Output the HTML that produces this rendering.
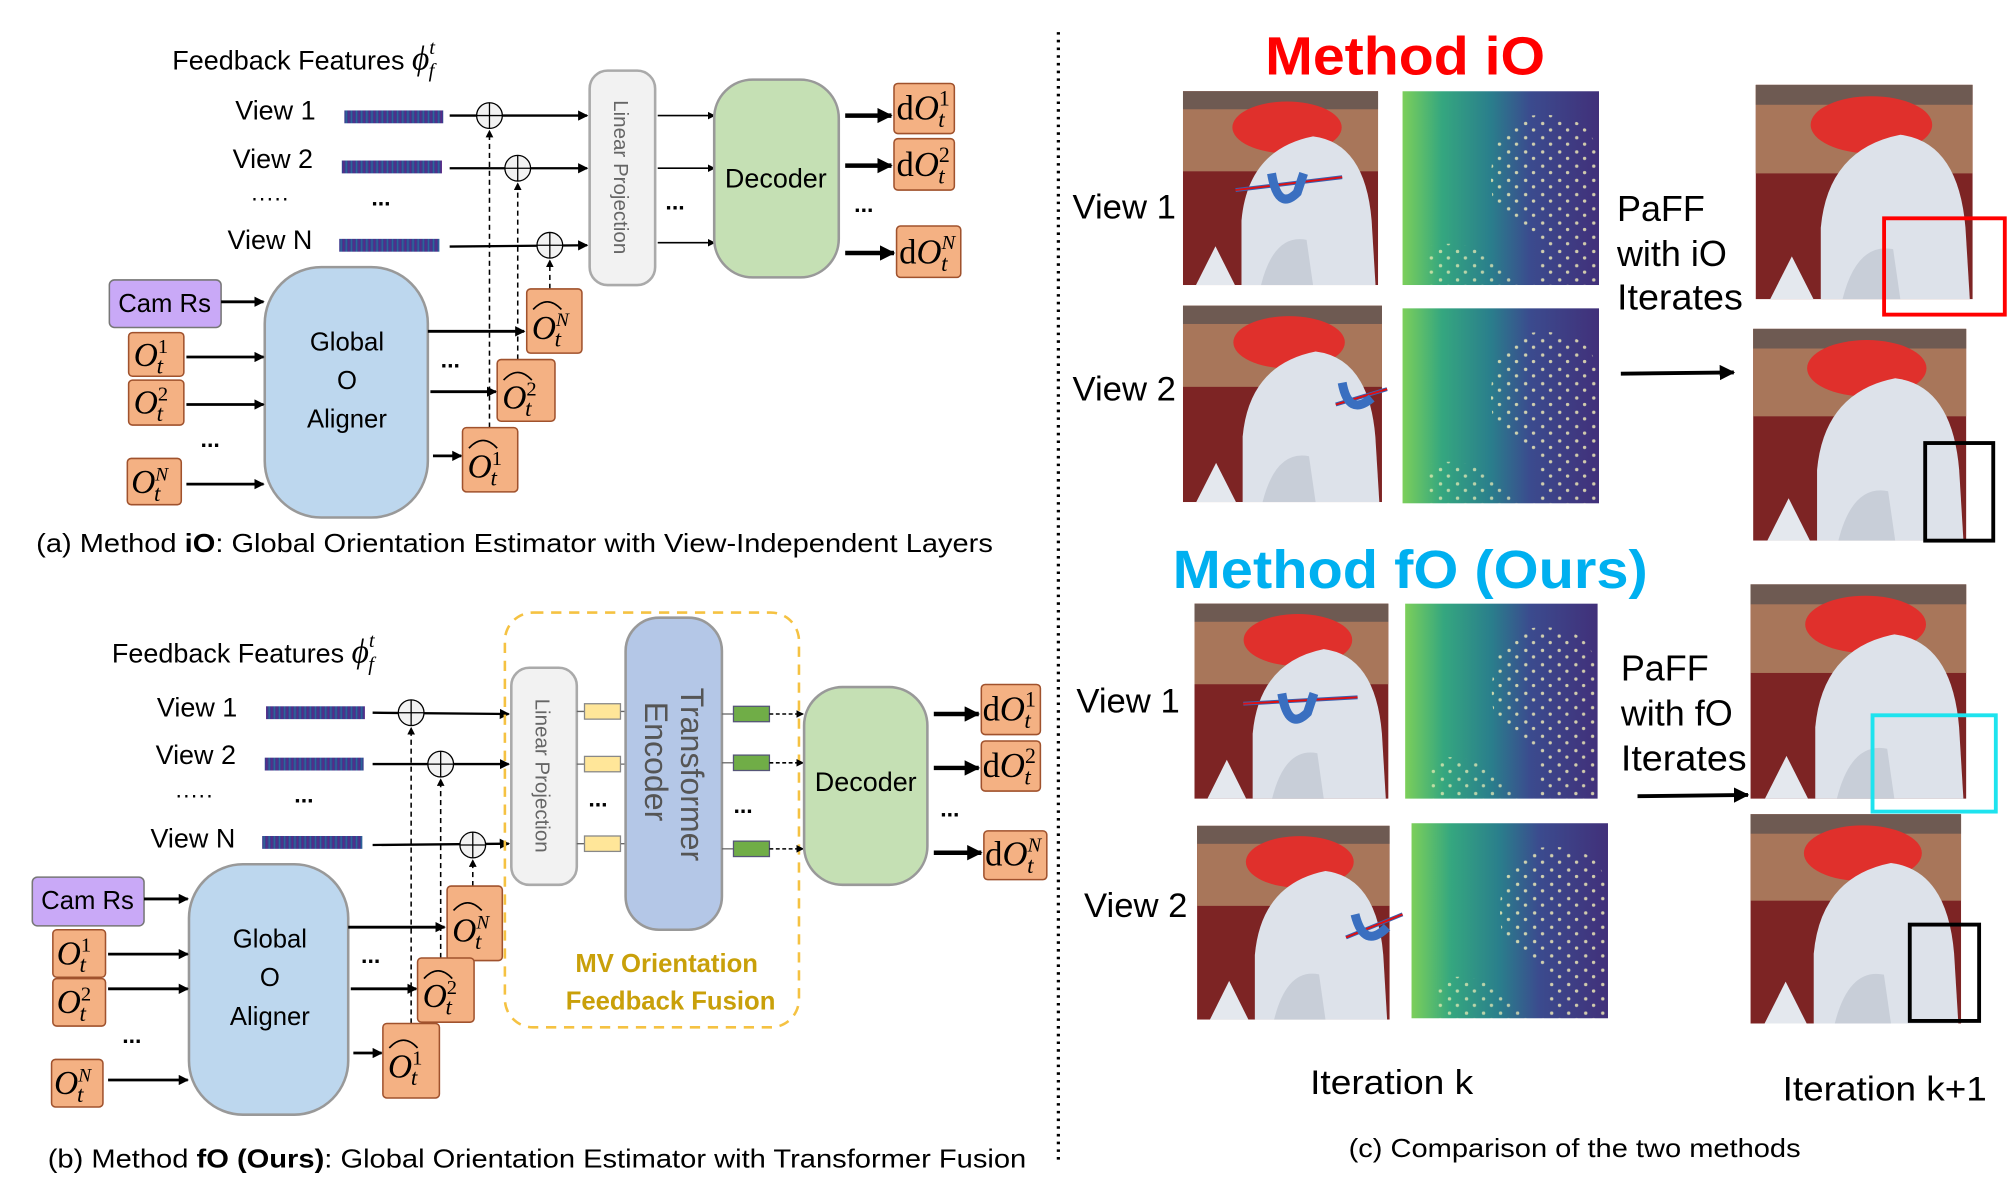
<!DOCTYPE html>
<html><head><meta charset="utf-8"><style>
html,body{margin:0;padding:0;background:#fff;}
svg{display:block;}
text{font-family:"Liberation Sans",sans-serif;}
.m{font-family:"Liberation Serif",serif;font-style:italic;}
</style></head><body>
<svg width="2014" height="1193" viewBox="0 0 1568 929" xmlns="http://www.w3.org/2000/svg">
<defs>
<marker id="ah" markerWidth="8" markerHeight="8" refX="7" refY="4" orient="auto" markerUnits="userSpaceOnUse"><path d="M0,0 L8,4 L0,8 Z" fill="#000"/></marker>
<marker id="ahb" markerWidth="12" markerHeight="12" refX="11" refY="6" orient="auto" markerUnits="userSpaceOnUse"><path d="M0,0 L12,6 L0,12 Z" fill="#000"/></marker>
<marker id="ahs" markerWidth="6" markerHeight="6" refX="5" refY="3" orient="auto" markerUnits="userSpaceOnUse"><path d="M0,0 L6,3 L0,6 Z" fill="#000"/></marker>
<pattern id="bar" width="4" height="10" patternUnits="userSpaceOnUse"><rect width="4" height="10" fill="#3a3d8f"/><rect x="1" width="1" height="10" fill="#2a6a9a"/><rect x="3" width="1" height="10" fill="#5b2a86"/></pattern>
<pattern id="dots" width="13" height="11" patternUnits="userSpaceOnUse"><circle cx="3" cy="3" r="1.3" fill="#f5f0b8"/><circle cx="9" cy="8" r="1.3" fill="#f5f0b8"/></pattern>
<linearGradient id="hg" x1="0" x2="1" y1="0" y2="0"><stop offset="0" stop-color="#7ccf5a"/><stop offset="0.2" stop-color="#35a77f"/><stop offset="0.45" stop-color="#2a7e8c"/><stop offset="0.65" stop-color="#3b4b8e"/><stop offset="1" stop-color="#41307a"/></linearGradient>
<symbol id="heat" viewBox="0 0 150 150" preserveAspectRatio="none">
<rect width="150" height="150" fill="url(#hg)"/>
<path d="M90 20 Q150 10 150 60 L150 150 L100 150 Q120 110 70 90 Q60 40 90 20 Z" fill="url(#dots)" opacity="0.8"/>
<path d="M20 120 Q60 110 90 150 L20 150 Z" fill="url(#dots)" opacity="0.7"/>
</symbol>
<symbol id="photo" viewBox="0 0 150 150" preserveAspectRatio="none">
<rect width="150" height="150" fill="#7d2424"/>
<rect width="150" height="62" fill="#a8765a"/>
<rect width="150" height="14" fill="#6e5a52"/>
<ellipse cx="80" cy="28" rx="42" ry="20" fill="#e0302c"/>
<path d="M45 150 L45 100 Q50 45 100 35 Q140 40 145 100 L148 150 Z" fill="#dde2ea"/>
<path d="M60 150 Q70 110 95 115 L100 150 Z" fill="#c8ced8"/>
<path d="M10 150 L25 120 L40 150 Z" fill="#e4e8ee"/>
</symbol>
</defs>

<!-- ============ PANEL A ============ -->
<text x="134" y="54" font-size="21">Feedback Features <tspan class="m" font-size="26">ϕ</tspan><tspan class="m" font-size="16" dy="-12">t</tspan><tspan class="m" font-size="16" dx="-5" dy="18">f</tspan></text>
<text x="183" y="93" font-size="21">View 1</text>
<text x="181" y="131" font-size="21">View 2</text>
<text x="195" y="160" font-size="18">·····</text>
<text x="289" y="160" font-size="18" font-weight="bold">...</text>
<text x="177" y="194" font-size="21">View N</text>
<rect x="268" y="86" width="77" height="10" fill="url(#bar)"/>
<rect x="266" y="125" width="78" height="10" fill="url(#bar)"/>
<rect x="264" y="186" width="78" height="10" fill="url(#bar)"/>
<g stroke="#000" stroke-width="1.8" fill="none">
<line x1="350" y1="90" x2="457" y2="90" marker-end="url(#ah)"/>
<line x1="350" y1="131" x2="457" y2="131" marker-end="url(#ah)"/>
<line x1="350" y1="192" x2="457" y2="191" marker-end="url(#ah)"/>
</g>
<g stroke="#000" stroke-width="1.2" stroke-dasharray="4,3" fill="none">
<line x1="381" y1="333" x2="381" y2="102" marker-end="url(#ahs)"/>
<line x1="403" y1="280" x2="403" y2="143" marker-end="url(#ahs)"/>
<line x1="428" y1="225" x2="428" y2="203" marker-end="url(#ahs)"/>
</g>
<g stroke="#000" stroke-width="1" fill="#f2f2f2">
<circle cx="381" cy="90" r="10"/><circle cx="403" cy="131" r="10"/><circle cx="428" cy="191" r="10"/>
</g>
<g stroke="#000" stroke-width="1">
<path d="M371 90 H391 M381 80 V100"/><path d="M393 131 H413 M403 121 V141"/><path d="M418 191 H438 M428 181 V201"/>
</g>
<rect x="459" y="55" width="51" height="167" rx="14" fill="#f2f2f2" stroke="#aaa" stroke-width="2"/>
<text transform="translate(478,138) rotate(90)" text-anchor="middle" font-size="16" fill="#666">Linear Projection</text>
<g stroke="#000" stroke-width="1.3">
<line x1="512" y1="90" x2="556" y2="90" marker-end="url(#ahs)"/>
<line x1="512" y1="131" x2="556" y2="131" marker-end="url(#ahs)"/>
<line x1="512" y1="189" x2="556" y2="189" marker-end="url(#ahs)"/>
</g>
<text x="518" y="163" font-size="18" font-weight="bold">...</text>
<rect x="556" y="62" width="97" height="154" rx="30" fill="#c5e0b4" stroke="#999" stroke-width="2"/>
<text x="604" y="146" text-anchor="middle" font-size="21">Decoder</text>
<g stroke="#000" stroke-width="3.5">
<line x1="658" y1="90" x2="694" y2="90" marker-end="url(#ahb)"/>
<line x1="658" y1="129" x2="694" y2="129" marker-end="url(#ahb)"/>
<line x1="658" y1="197" x2="696" y2="197" marker-end="url(#ahb)"/>
</g>
<text x="665" y="165" font-size="18" font-weight="bold">...</text>
<g fill="#f4b183" stroke="#a0522d" stroke-width="1.2">
<rect x="696" y="65" width="47" height="39" rx="3"/><rect x="696" y="108" width="47" height="40" rx="3"/><rect x="698" y="176" width="50" height="40" rx="3"/>
</g>
<text x="698" y="93" font-size="27" class="m"><tspan font-style="normal">d</tspan>O<tspan font-size="17" font-style="normal" dy="-11">1</tspan><tspan font-size="18" dx="-9" dy="17">t</tspan></text>
<text x="698" y="137" font-size="27" class="m"><tspan font-style="normal">d</tspan>O<tspan font-size="17" font-style="normal" dy="-11">2</tspan><tspan font-size="18" dx="-9" dy="17">t</tspan></text>
<text x="700" y="205" font-size="27" class="m"><tspan font-style="normal">d</tspan>O<tspan font-size="16" dy="-11">N</tspan><tspan font-size="18" dx="-11" dy="17">t</tspan></text>

<rect x="85" y="218" width="87" height="37" rx="4" fill="#c9a9f7" stroke="#777" stroke-width="1.2"/>
<text x="128" y="243" text-anchor="middle" font-size="20">Cam Rs</text>
<rect x="206" y="208" width="127" height="195" rx="44" fill="#bdd7ee" stroke="#999" stroke-width="2"/>
<text x="270" y="273" text-anchor="middle" font-size="20">Global</text>
<text x="270" y="303" text-anchor="middle" font-size="20">O</text>
<text x="270" y="333" text-anchor="middle" font-size="20">Aligner</text>
<g fill="#f4b183" stroke="#a0522d" stroke-width="1.2">
<rect x="100" y="259" width="43" height="34" rx="3"/><rect x="100" y="296" width="43" height="35" rx="3"/><rect x="99" y="357" width="42" height="36" rx="3"/>
</g>
<text x="104" y="285" font-size="26" class="m">O<tspan font-size="16" font-style="normal" dy="-10">1</tspan><tspan font-size="18" dx="-9" dy="16">t</tspan></text>
<text x="104" y="322" font-size="26" class="m">O<tspan font-size="16" font-style="normal" dy="-10">2</tspan><tspan font-size="18" dx="-9" dy="16">t</tspan></text>
<text x="102" y="384" font-size="26" class="m">O<tspan font-size="15" dy="-10">N</tspan><tspan font-size="18" dx="-11" dy="16">t</tspan></text>
<text x="156" y="348" font-size="18" font-weight="bold">...</text>
<g stroke="#000" stroke-width="2.2">
<line x1="172" y1="235" x2="205" y2="235" marker-end="url(#ah)"/>
<line x1="145" y1="278" x2="205" y2="278" marker-end="url(#ah)"/>
<line x1="145" y1="315" x2="205" y2="315" marker-end="url(#ah)"/>
<line x1="145" y1="377" x2="205" y2="377" marker-end="url(#ah)"/>
<line x1="333" y1="258" x2="408" y2="258" marker-end="url(#ah)"/>
<line x1="335" y1="305" x2="386" y2="305" marker-end="url(#ah)"/>
<line x1="337" y1="355" x2="359" y2="355" marker-end="url(#ah)"/>
</g>
<text x="343" y="286" font-size="18" font-weight="bold">...</text>
<g fill="#f4b183" stroke="#a0522d" stroke-width="1.2">
<rect x="410" y="225" width="43" height="50" rx="3"/><rect x="387" y="280" width="45" height="48" rx="3"/><rect x="360" y="333" width="43" height="50" rx="3"/>
</g>
<g fill="none" stroke="#000" stroke-width="1.3"><path d="M415 241 Q426 229 437 241"/><path d="M392 296 Q403 284 414 296"/><path d="M365 349 Q376 337 387 349"/></g>
<text x="414" y="264" font-size="26" class="m">O<tspan font-size="15" dy="-10">N</tspan><tspan font-size="18" dx="-11" dy="16">t</tspan></text>
<text x="391" y="318" font-size="26" class="m">O<tspan font-size="16" font-style="normal" dy="-10">2</tspan><tspan font-size="18" dx="-9" dy="16">t</tspan></text>
<text x="364" y="372" font-size="26" class="m">O<tspan font-size="16" font-style="normal" dy="-10">1</tspan><tspan font-size="18" dx="-9" dy="16">t</tspan></text>
<text x="28" y="430" font-size="20" textLength="745" lengthAdjust="spacingAndGlyphs">(a) Method <tspan font-weight="bold">iO</tspan>: Global Orientation Estimator with View-Independent Layers</text>

<!-- ============ PANEL B ============ -->
<text x="87" y="516" font-size="21">Feedback Features <tspan class="m" font-size="26">ϕ</tspan><tspan class="m" font-size="16" dy="-12">t</tspan><tspan class="m" font-size="16" dx="-5" dy="18">f</tspan></text>
<text x="122" y="558" font-size="21">View 1</text>
<text x="121" y="595" font-size="21">View 2</text>
<text x="136" y="625" font-size="18">·····</text>
<text x="229" y="625" font-size="18" font-weight="bold">...</text>
<text x="117" y="660" font-size="21">View N</text>
<rect x="207" y="550" width="77" height="10" fill="url(#bar)"/>
<rect x="206" y="590" width="77" height="10" fill="url(#bar)"/>
<rect x="204" y="651" width="78" height="10" fill="url(#bar)"/>
<g stroke="#000" stroke-width="1.8">
<line x1="290" y1="555" x2="396" y2="556" marker-end="url(#ah)"/>
<line x1="290" y1="595" x2="396" y2="595" marker-end="url(#ah)"/>
<line x1="290" y1="658" x2="396" y2="657" marker-end="url(#ah)"/>
</g>
<g stroke="#000" stroke-width="1.2" stroke-dasharray="4,3">
<line x1="320" y1="797" x2="320" y2="567" marker-end="url(#ahs)"/>
<line x1="343" y1="746" x2="343" y2="607" marker-end="url(#ahs)"/>
<line x1="368" y1="690" x2="368" y2="670" marker-end="url(#ahs)"/>
</g>
<g stroke="#000" stroke-width="1" fill="#f2f2f2">
<circle cx="320" cy="555" r="10"/><circle cx="343" cy="595" r="10"/><circle cx="368" cy="658" r="10"/>
</g>
<g stroke="#000" stroke-width="1">
<path d="M310 555 H330 M320 545 V565"/><path d="M333 595 H353 M343 585 V605"/><path d="M358 658 H378 M368 648 V668"/>
</g>
<rect x="393" y="477" width="229" height="323" rx="22" fill="none" stroke="#f5c242" stroke-width="2" stroke-dasharray="8,6"/>
<rect x="398" y="520" width="51" height="169" rx="14" fill="#f2f2f2" stroke="#aaa" stroke-width="2"/>
<text transform="translate(417,604) rotate(90)" text-anchor="middle" font-size="16" fill="#666">Linear Projection</text>
<g stroke="#666" stroke-width="1"><line x1="449" y1="554" x2="487" y2="554"/><line x1="449" y1="595" x2="487" y2="595"/><line x1="449" y1="657" x2="487" y2="657"/></g>
<g fill="#ffe699" stroke="#888" stroke-width="1"><rect x="455" y="548" width="28" height="12"/><rect x="455" y="589" width="28" height="12"/><rect x="455" y="651" width="28" height="12"/></g>
<text x="458" y="628" font-size="18" font-weight="bold">...</text>
<rect x="487" y="481" width="75" height="243" rx="26" fill="#b4c7e7" stroke="#999" stroke-width="2"/>
<text transform="translate(530,603) rotate(90)" text-anchor="middle" font-size="25" fill="#555">Transformer</text>
<text transform="translate(502,593) rotate(90)" text-anchor="middle" font-size="25" fill="#555">Encoder</text>
<g stroke="#666" stroke-width="1"><line x1="562" y1="556" x2="571" y2="556"/><line x1="562" y1="594" x2="571" y2="594"/><line x1="562" y1="661" x2="571" y2="661"/></g>
<g fill="#70ad47" stroke="#557" stroke-width="1"><rect x="571" y="550" width="28" height="12"/><rect x="571" y="588" width="28" height="12"/><rect x="571" y="655" width="28" height="12"/></g>
<g stroke="#000" stroke-width="1.2" stroke-dasharray="3,2"><line x1="599" y1="556" x2="625" y2="556" marker-end="url(#ahs)"/><line x1="599" y1="594" x2="625" y2="594" marker-end="url(#ahs)"/><line x1="599" y1="661" x2="625" y2="661" marker-end="url(#ahs)"/></g>
<text x="571" y="633" font-size="18" font-weight="bold">...</text>
<rect x="626" y="535" width="96" height="154" rx="30" fill="#c5e0b4" stroke="#999" stroke-width="2"/>
<text x="674" y="616" text-anchor="middle" font-size="21">Decoder</text>
<g stroke="#000" stroke-width="3.5">
<line x1="727" y1="556" x2="762" y2="556" marker-end="url(#ahb)"/>
<line x1="727" y1="598" x2="762" y2="598" marker-end="url(#ahb)"/>
<line x1="727" y1="664" x2="764" y2="664" marker-end="url(#ahb)"/>
</g>
<text x="732" y="636" font-size="18" font-weight="bold">...</text>
<g fill="#f4b183" stroke="#a0522d" stroke-width="1.2">
<rect x="764" y="533" width="46" height="39" rx="3"/><rect x="764" y="577" width="46" height="39" rx="3"/><rect x="766" y="647" width="49" height="38" rx="3"/>
</g>
<text x="765" y="561" font-size="27" class="m"><tspan font-style="normal">d</tspan>O<tspan font-size="17" font-style="normal" dy="-11">1</tspan><tspan font-size="18" dx="-9" dy="17">t</tspan></text>
<text x="765" y="605" font-size="27" class="m"><tspan font-style="normal">d</tspan>O<tspan font-size="17" font-style="normal" dy="-11">2</tspan><tspan font-size="18" dx="-9" dy="17">t</tspan></text>
<text x="767" y="674" font-size="27" class="m"><tspan font-style="normal">d</tspan>O<tspan font-size="16" dy="-11">N</tspan><tspan font-size="18" dx="-11" dy="17">t</tspan></text>
<text x="519" y="757" text-anchor="middle" font-size="20" font-weight="bold" fill="#c9a00a">MV Orientation</text>
<text x="522" y="786" text-anchor="middle" font-size="20" font-weight="bold" fill="#c9a00a">Feedback Fusion</text>

<rect x="25" y="683" width="87" height="38" rx="4" fill="#c9a9f7" stroke="#777" stroke-width="1.2"/>
<text x="68" y="708" text-anchor="middle" font-size="20">Cam Rs</text>
<rect x="147" y="673" width="124" height="195" rx="42" fill="#bdd7ee" stroke="#999" stroke-width="2"/>
<text x="210" y="738" text-anchor="middle" font-size="20">Global</text>
<text x="210" y="768" text-anchor="middle" font-size="20">O</text>
<text x="210" y="798" text-anchor="middle" font-size="20">Aligner</text>
<g fill="#f4b183" stroke="#a0522d" stroke-width="1.2">
<rect x="41" y="724" width="41" height="37" rx="3"/><rect x="41" y="762" width="41" height="37" rx="3"/><rect x="40" y="825" width="40" height="37" rx="3"/>
</g>
<text x="44" y="751" font-size="26" class="m">O<tspan font-size="16" font-style="normal" dy="-10">1</tspan><tspan font-size="18" dx="-9" dy="16">t</tspan></text>
<text x="44" y="789" font-size="26" class="m">O<tspan font-size="16" font-style="normal" dy="-10">2</tspan><tspan font-size="18" dx="-9" dy="16">t</tspan></text>
<text x="42" y="852" font-size="26" class="m">O<tspan font-size="15" dy="-10">N</tspan><tspan font-size="18" dx="-11" dy="16">t</tspan></text>
<text x="95" y="812" font-size="18" font-weight="bold">...</text>
<g stroke="#000" stroke-width="2.2">
<line x1="112" y1="700" x2="146" y2="700" marker-end="url(#ah)"/>
<line x1="84" y1="743" x2="146" y2="743" marker-end="url(#ah)"/>
<line x1="84" y1="770" x2="146" y2="770" marker-end="url(#ah)"/>
<line x1="84" y1="841" x2="146" y2="841" marker-end="url(#ah)"/>
<line x1="271" y1="722" x2="346" y2="722" marker-end="url(#ah)"/>
<line x1="273" y1="770" x2="324" y2="770" marker-end="url(#ah)"/>
<line x1="275" y1="820" x2="297" y2="820" marker-end="url(#ah)"/>
</g>
<text x="281" y="750" font-size="18" font-weight="bold">...</text>
<g fill="#f4b183" stroke="#a0522d" stroke-width="1.2">
<rect x="348" y="690" width="43" height="58" rx="3"/><rect x="325" y="746" width="44" height="50" rx="3"/><rect x="298" y="797" width="44" height="58" rx="3"/>
</g>
<g fill="none" stroke="#000" stroke-width="1.3"><path d="M353 709 Q364 697 375 709"/><path d="M330 762 Q341 750 352 762"/><path d="M303 816 Q314 804 325 816"/></g>
<text x="352" y="733" font-size="26" class="m">O<tspan font-size="15" dy="-10">N</tspan><tspan font-size="18" dx="-11" dy="16">t</tspan></text>
<text x="329" y="784" font-size="26" class="m">O<tspan font-size="16" font-style="normal" dy="-10">2</tspan><tspan font-size="18" dx="-9" dy="16">t</tspan></text>
<text x="302" y="839" font-size="26" class="m">O<tspan font-size="16" font-style="normal" dy="-10">1</tspan><tspan font-size="18" dx="-9" dy="16">t</tspan></text>
<text x="37" y="909" font-size="20" textLength="762" lengthAdjust="spacingAndGlyphs">(b) Method <tspan font-weight="bold">fO (Ours)</tspan>: Global Orientation Estimator with Transformer Fusion</text>

<!-- divider -->
<line x1="824" y1="25" x2="824" y2="905" stroke="#000" stroke-width="2.5" stroke-dasharray="2,4"/>

<!-- ============ PANEL C ============ -->
<text x="985" y="58" font-size="42" font-weight="bold" fill="#ff0000" textLength="218" lengthAdjust="spacingAndGlyphs">Method iO</text>
<use href="#photo" x="921" y="71" width="152" height="151"/>
<use href="#heat" x="1092" y="71" width="153" height="151"/>
<use href="#photo" x="921" y="238" width="155" height="153"/>
<use href="#heat" x="1092" y="240" width="153" height="152"/>
<g stroke-width="3"><line x1="962" y1="148" x2="1045" y2="138" stroke="#3a5fb0"/><line x1="962" y1="148" x2="1045" y2="138" stroke="#e01010" stroke-width="1.5"/>
<line x1="1040" y1="315" x2="1080" y2="303" stroke="#3a5fb0"/><line x1="1040" y1="315" x2="1080" y2="303" stroke="#e01010" stroke-width="1.5"/></g>
<path d="M990 135 Q995 165 1010 150 L1015 135" fill="none" stroke="#3a6fc0" stroke-width="7"/>
<path d="M1045 298 Q1050 325 1068 310" fill="none" stroke="#3a6fc0" stroke-width="7"/>
<text x="835" y="170" font-size="27">View 1</text>
<text x="835" y="312" font-size="27">View 2</text>
<text x="1259" y="172" font-size="28">PaFF</text>
<text x="1259" y="207" font-size="28">with iO</text>
<text x="1259" y="241" font-size="28" textLength="98" lengthAdjust="spacingAndGlyphs">Iterates</text>
<line x1="1262" y1="291" x2="1350" y2="290" stroke="#000" stroke-width="3" marker-end="url(#ahb)"/>
<use href="#photo" x="1367" y="66" width="169" height="167"/>
<rect x="1467" y="170" width="94" height="75" fill="none" stroke="#ff0000" stroke-width="3"/>
<use href="#photo" x="1365" y="256" width="166" height="165"/>
<rect x="1499" y="345" width="53" height="76" fill="none" stroke="#000" stroke-width="3"/>

<text x="913" y="458" font-size="42" font-weight="bold" fill="#00b0f0" textLength="370" lengthAdjust="spacingAndGlyphs">Method fO (Ours)</text>
<use href="#photo" x="930" y="470" width="151" height="152"/>
<use href="#heat" x="1094" y="470" width="150" height="152"/>
<use href="#photo" x="932" y="643" width="150" height="151"/>
<use href="#heat" x="1099" y="641" width="153" height="152"/>
<g stroke-width="3"><line x1="968" y1="548" x2="1057" y2="543" stroke="#3a5fb0"/><line x1="968" y1="548" x2="1057" y2="543" stroke="#e01010" stroke-width="1.5"/>
<line x1="1048" y1="730" x2="1092" y2="712" stroke="#3a5fb0"/><line x1="1048" y1="730" x2="1092" y2="712" stroke="#e01010" stroke-width="1.5"/></g>
<path d="M998 540 Q1003 570 1018 555 L1023 540" fill="none" stroke="#3a6fc0" stroke-width="7"/>
<path d="M1055 712 Q1062 740 1080 722" fill="none" stroke="#3a6fc0" stroke-width="7"/>
<text x="838" y="555" font-size="27">View 1</text>
<text x="844" y="714" font-size="27">View 2</text>
<text x="1262" y="530" font-size="28">PaFF</text>
<text x="1262" y="565" font-size="28">with fO</text>
<text x="1262" y="600" font-size="28" textLength="98" lengthAdjust="spacingAndGlyphs">Iterates</text>
<line x1="1275" y1="620" x2="1361" y2="619" stroke="#000" stroke-width="3" marker-end="url(#ahb)"/>
<use href="#photo" x="1363" y="455" width="168" height="167"/>
<rect x="1458" y="557" width="96" height="75" fill="none" stroke="#1ee3ee" stroke-width="3"/>
<use href="#photo" x="1363" y="634" width="164" height="163"/>
<rect x="1487" y="720" width="54" height="75" fill="none" stroke="#000" stroke-width="3"/>

<text x="1020" y="852" font-size="27" textLength="127" lengthAdjust="spacingAndGlyphs">Iteration k</text>
<text x="1388" y="857" font-size="27" textLength="159" lengthAdjust="spacingAndGlyphs">Iteration k+1</text>
<text x="1050" y="901" font-size="20" textLength="352" lengthAdjust="spacingAndGlyphs">(c) Comparison of the two methods</text>
</svg>
</body></html>
